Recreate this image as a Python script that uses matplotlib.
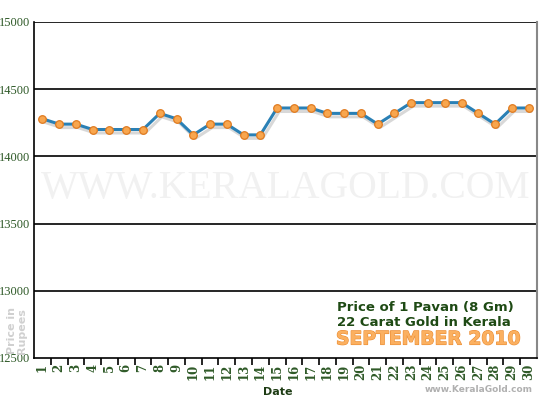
import matplotlib
matplotlib.use("Agg")
import matplotlib.pyplot as plt
import matplotlib.patheffects as pe
import numpy as np

days = list(range(1, 31))
day_labels = [str(d) for d in days]
prices = [14280, 14240, 14240, 14200, 14200, 14200, 14200, 14320, 14280, 14160,
          14240, 14240, 14160, 14160, 14360, 14360, 14360, 14320, 14320, 14320,
          14240, 14320, 14400, 14400, 14400, 14400, 14320, 14240, 14360, 14360]
y_ticks = [12500, 13000, 13500, 14000, 14500, 15000]

green = "#2f5a28"
fig = plt.figure(figsize=(5.5, 4.0), dpi=100)
ax = fig.add_axes([34/550, 42/400, 503/550, 336/400])
ax.set_xlim(0.5, 30.5)
ax.set_ylim(12500, 15000)

# watermark
ax.text(0.5, 0.505, "WWW.KERALAGOLD.COM", transform=ax.transAxes, ha="center", va="center",
        fontsize=28.5, family="Liberation Serif", color="#f1f1f1", zorder=0)

for v in y_ticks[1:]:
    ax.axhline(v, color="black", lw=1.2, zorder=1)

x = np.array(days)
ax.plot(x, prices, color="#2a80b5", lw=2.2, zorder=3,
        path_effects=[pe.SimpleLineShadow(offset=(1.5, -2.5), shadow_color="#666666", alpha=0.25, rho=0.5),
                      pe.Normal()])
ax.scatter(x, prices, s=30, color="#f8a64e", edgecolor="#e07b20", linewidth=0.9, zorder=4)

ax.spines["top"].set_visible(False)
ax.spines["left"].set_color("black")
ax.spines["left"].set_linewidth(1.2)
ax.spines["bottom"].set_color("black")
ax.spines["bottom"].set_linewidth(1.2)
ax.spines["right"].set_color("#888888")
ax.spines["right"].set_linewidth(1.5)

ax.set_yticks(y_ticks)
ax.set_yticklabels([str(v) for v in y_ticks], family="Liberation Serif", fontsize=9, color=green)
ax.tick_params(axis="y", length=0, pad=3)

ax.set_xticks(days)
ax.set_xticklabels(day_labels, rotation=90, family="DejaVu Serif", fontweight="bold",
                   fontsize=8.5, color=green)
ax.set_xticks(np.arange(1.5, 30.5, 1), minor=True)
ax.tick_params(axis="x", which="major", length=0, pad=4)
ax.tick_params(axis="x", which="minor", length=5, width=1.2, color="black", direction="out")

fig.text(278/550, 1 - 392/400, "Date", ha="center", va="center", fontsize=8,
         fontweight="bold", color="#1e3c14")
fig.text(533/550, 1 - 389/400, "www.KeralaGold.com", ha="right", va="center", fontsize=6.5,
         fontweight="bold", color="#b0b0b0")
fig.text(17/550, 1 - 331/400, "Price in\nRupees", ha="center", va="center", rotation=90,
         fontsize=8, fontweight="bold", color="#d0d0d0", linespacing=1.0)

ax.text(337/550, 1 - 308/400, "Price of 1 Pavan (8 Gm)", transform=fig.transFigure,
        ha="left", va="center", fontsize=9.5, fontweight="bold", color="#1e4a14")
ax.text(337/550, 1 - 322/400, "22 Carat Gold in Kerala", transform=fig.transFigure,
        ha="left", va="center", fontsize=9.5, fontweight="bold", color="#1e4a14")
ax.text(336/550, 1 - 339/400, "SEPTEMBER 2010", transform=fig.transFigure,
        ha="left", va="center", fontsize=13.5, fontweight="bold", color="#fbb060",
        path_effects=[pe.withStroke(linewidth=0.8, foreground="#ea8a30")])

fig.savefig("out.png", dpi=100, facecolor="white")
